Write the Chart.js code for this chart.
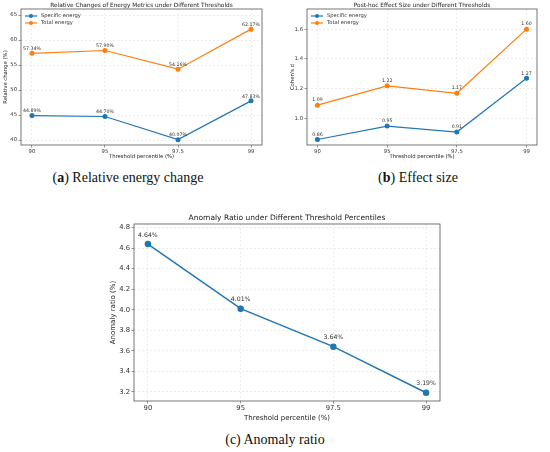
<!DOCTYPE html>
<html>
<head>
<meta charset="utf-8">
<script src="https://cdn.jsdelivr.net/npm/chart.js@4.4.1/dist/chart.umd.min.js"></script>
<style>
  body { margin: 0; background: #fff; width: 550px; height: 452px; position: relative; overflow: hidden; }
  canvas { position: absolute; }
  .cap { position: absolute; font-family: "Liberation Serif", "DejaVu Serif", serif; font-size: 14px; color: #111; white-space: nowrap; transform: translate(-50%, -50%); }
</style>
</head>
<body>
<canvas id="chartA" width="275" height="160" style="left:0;top:0;width:275px;height:160px"></canvas>
<canvas id="chartB" width="275" height="160" style="left:275px;top:0;width:275px;height:160px"></canvas>
<canvas id="chartC" width="360" height="217" style="left:100px;top:205px;width:360px;height:217px"></canvas>
<div class="cap" style="left:128px;top:178px">(<b>a</b>) Relative energy change</div>
<div class="cap" style="left:418px;top:178px">(<b>b</b>) Effect size</div>
<div class="cap" style="left:275px;top:440px">(c) Anomaly ratio</div>
<script>
const thresholds = ['90', '95', '97.5', '99'];
const specificChange = [44.89, 44.70, 40.07, 47.83];
const totalChange = [57.34, 57.90, 54.16, 62.17];
const specificEffect = [0.86, 0.95, 0.91, 1.27];
const totalEffect = [1.09, 1.22, 1.17, 1.60];
const anomalyRatio = [4.64, 4.01, 3.64, 3.19];

const yTicksA = [40, 45, 50, 55, 60, 65];
const yTicksB = [1.0, 1.2, 1.4, 1.6];
const yTicksC = [3.2, 3.4, 3.6, 3.8, 4.0, 4.2, 4.4, 4.6, 4.8];

const BLUE = '#1f77b4';
const ORANGE = '#ff7f0e';
const FONT = 'DejaVu Sans';

function pts(arr) {
  return arr.map((v, i) => ({ x: i, y: v }));
}

// frame, title, legend, point labels
const extras = {
  id: 'extras',
  afterDraw(chart, args, o) {
    const ctx = chart.ctx;
    const a = chart.chartArea;
    ctx.save();
    ctx.strokeStyle = '#555';
    ctx.lineWidth = 0.8;
    ctx.strokeRect(a.left, a.top, a.right - a.left, a.bottom - a.top);

    ctx.fillStyle = '#222';
    ctx.font = o.titleSize + 'px ' + FONT;
    ctx.textAlign = 'center';
    ctx.textBaseline = 'middle';
    ctx.fillText(o.title, (a.left + a.right) / 2, a.top - o.titleGap);

    // labels above points
    ctx.font = o.labelSize + 'px ' + FONT;
    ctx.fillStyle = '#333';
    chart.data.datasets.forEach((ds, di) => {
      const meta = chart.getDatasetMeta(di);
      meta.data.forEach((p, i) => {
        ctx.fillText(o.fmt(ds.data[i].y), p.x, p.y - o.labelGap);
      });
    });

    if (o.legend) {
      ctx.font = o.legendSize + 'px ' + FONT;
      ctx.textAlign = 'left';
      chart.data.datasets.forEach((ds, di) => {
        const y = a.top + 7 + di * 7;
        const x = a.left + 4;
        ctx.strokeStyle = ds.borderColor;
        ctx.lineWidth = 1.2;
        ctx.beginPath();
        ctx.moveTo(x, y);
        ctx.lineTo(x + 12, y);
        ctx.stroke();
        ctx.fillStyle = ds.borderColor;
        ctx.beginPath();
        ctx.arc(x + 6, y, 2, 0, Math.PI * 2);
        ctx.fill();
        ctx.fillStyle = '#333';
        ctx.fillText(ds.label, x + 16, y);
      });
    }
    ctx.restore();
  }
};

function makeChart(id, cfg) {
  const fs = cfg.fontSize;
  return new Chart(document.getElementById(id), {
    type: 'line',
    data: {
      datasets: cfg.series.map(s => ({
        label: s.label,
        data: pts(s.values),
        borderColor: s.color,
        backgroundColor: s.color,
        borderWidth: cfg.lineWidth,
        pointRadius: cfg.pointRadius,
        pointHoverRadius: cfg.pointRadius,
        tension: 0,
        fill: false
      }))
    },
    options: {
      responsive: false,
      animation: false,
      events: [],
      layout: { padding: cfg.padding },
      plugins: {
        legend: { display: false },
        tooltip: { enabled: false },
        extras: {
          title: cfg.title, titleSize: cfg.titleSize, titleGap: cfg.titleGap,
          labelSize: cfg.labelSize, labelGap: cfg.labelGap, fmt: cfg.fmt,
          legend: cfg.legend, legendSize: cfg.legendSize
        }
      },
      scales: {
        x: {
          type: 'linear',
          min: -0.15, max: 3.15,
          afterBuildTicks: s => { s.ticks = thresholds.map((_, i) => ({ value: i })); },
          afterFit: s => { s.height = cfg.xHeight; },
          ticks: { callback: v => thresholds[v], font: { family: FONT, size: fs }, color: '#333', padding: 1, maxRotation: 0 },
          grid: { color: 'rgba(0,0,0,0.12)', tickColor: '#555', tickLength: 2.5, lineWidth: 0.6 },
          border: { display: false, dash: [2, 2] },
          title: { display: true, text: 'Threshold percentile (%)', font: { family: FONT, size: cfg.axisTitleSize }, color: '#222', padding: 0 }
        },
        y: {
          min: cfg.yMin, max: cfg.yMax,
          afterBuildTicks: s => { s.ticks = cfg.yTicks.map(v => ({ value: v })); },
          afterFit: s => { s.width = cfg.yWidth; },
          ticks: { callback: cfg.yFmt, font: { family: FONT, size: fs }, color: '#333', padding: 1.5 },
          grid: { color: 'rgba(0,0,0,0.12)', tickColor: '#555', tickLength: 2.5, lineWidth: 0.6 },
          border: { display: false, dash: [2, 2] },
          title: { display: true, text: cfg.yTitle, font: { family: FONT, size: cfg.axisTitleSize }, color: '#222', padding: { top: cfg.yTitlePad, bottom: 0 } }
        }
      }
    },
    plugins: [extras]
  });
}

makeChart('chartA', {
  series: [
    { label: 'Specific energy', values: specificChange, color: BLUE },
    { label: 'Total energy', values: totalChange, color: ORANGE }
  ],
  title: 'Relative Changes of Energy Metrics under Different Thresholds',
  yTitle: 'Relative change (%)',
  yMin: 39, yMax: 66.2, yTicks: yTicksA, yFmt: v => String(v),
  fmt: v => v.toFixed(2) + '%',
  padding: { top: 9, right: 13, left: 0, bottom: 0 },
  yWidth: 21, xHeight: 15, yTitlePad: 2,
  fontSize: 5.3, titleSize: 5.8, axisTitleSize: 5.3, labelSize: 4.7, labelGap: 4.5, titleGap: 3.5,
  legend: true, legendSize: 5.2, lineWidth: 1.2, pointRadius: 1.9
});

makeChart('chartB', {
  series: [
    { label: 'Specific energy', values: specificEffect, color: BLUE },
    { label: 'Total energy', values: totalEffect, color: ORANGE }
  ],
  title: 'Post-hoc Effect Size under Different Thresholds',
  yTitle: "Cohen's d",
  yMin: 0.823, yMax: 1.735, yTicks: yTicksB, yFmt: v => v.toFixed(1),
  fmt: v => v.toFixed(2),
  padding: { top: 9, right: 13, left: 0, bottom: 0 },
  yWidth: 32, xHeight: 15, yTitlePad: 14,
  fontSize: 5.3, titleSize: 5.8, axisTitleSize: 5.3, labelSize: 4.7, labelGap: 5, titleGap: 3.5,
  legend: true, legendSize: 5.2, lineWidth: 1.2, pointRadius: 1.9
});

makeChart('chartC', {
  series: [
    { label: 'Anomaly ratio', values: anomalyRatio, color: BLUE }
  ],
  title: 'Anomaly Ratio under Different Threshold Percentiles',
  yTitle: 'Anomaly ratio (%)',
  yMin: 3.11, yMax: 4.836, yTicks: yTicksC, yFmt: v => v.toFixed(1),
  fmt: v => v.toFixed(2) + '%',
  padding: { top: 19, right: 20, left: 0, bottom: 0 },
  yWidth: 34, xHeight: 21, yTitlePad: 9,
  fontSize: 6.8, titleSize: 7.5, axisTitleSize: 7, labelSize: 6.2, labelGap: 9, titleGap: 6,
  legend: false, lineWidth: 1.5, pointRadius: 2.5
});
</script>
</body>
</html>
